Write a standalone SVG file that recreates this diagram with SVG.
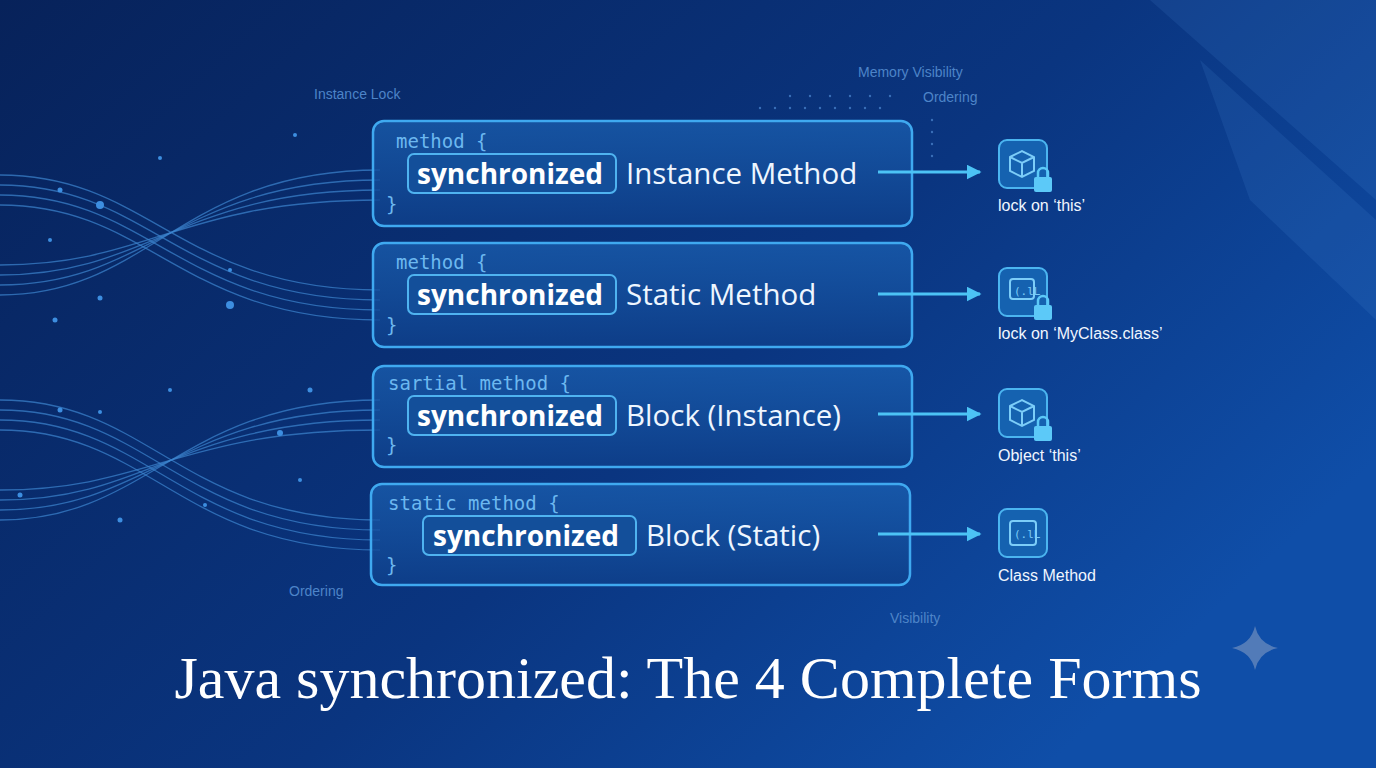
<svg xmlns="http://www.w3.org/2000/svg" width="1376" height="768" viewBox="0 0 1376 768">
<defs>
<linearGradient id="bg" x1="0" y1="0" x2="1" y2="0.6">
<stop offset="0" stop-color="#07225a"/><stop offset="0.6" stop-color="#0a3580"/><stop offset="1" stop-color="#0f4ea8"/>
</linearGradient>
<linearGradient id="box" x1="0" y1="0" x2="0" y2="1">
<stop offset="0" stop-color="#1a5fb0" stop-opacity="0.75"/><stop offset="1" stop-color="#0e3f8a" stop-opacity="0.85"/>
</linearGradient>
<marker id="ah" viewBox="0 0 10 10" refX="9" refY="5" markerWidth="5" markerHeight="5" orient="auto"><path d="M0,0 L10,5 L0,10 z" fill="#4cc3f5"/></marker>
</defs>
<style>
.box{fill:url(#box);stroke:#3fa9f0;stroke-width:2.5}
.pill{fill:#134f9a;stroke:#4fb3f0;stroke-width:2}
.kw{font-family:"DejaVu Sans Mono",monospace;font-size:19px;fill:#6cb8f0}
.sync{font-family:"Open Sans","Liberation Sans",sans-serif;font-weight:bold;font-size:28px;fill:#fff}
.lbl{font-family:"Open Sans","Liberation Sans",sans-serif;font-size:29.5px;fill:#eef6ff}
.cap{font-family:"Liberation Sans",sans-serif;font-size:16px;fill:#f0f6ff}
.dim{font-family:"Liberation Sans",sans-serif;font-size:14px;fill:#4d84c8}
.icon{fill:#1562b0;stroke:#4bb5f0;stroke-width:2}
.istroke{fill:none;stroke:#7ccdf8;stroke-width:2}
.lock{fill:#5cc9f8}
.wire{fill:none;stroke:#3d86d0;stroke-width:1.3;opacity:0.7}
.conn{stroke:#4cc3f5;stroke-width:3;fill:none}
</style>
<rect width="1376" height="768" fill="url(#bg)"/>
<g opacity="0.12" fill="#5a9ce8">
<polygon points="1150,0 1376,0 1376,200"/>
<polygon points="1200,60 1376,220 1376,320 1250,200"/>
</g>
<g id="wires">
<path class="wire" d="M0,175 C150,175 180,290 380,290"/><path class="wire" d="M0,185 C150,185 180,300 380,300"/><path class="wire" d="M0,195 C150,195 180,310 380,310"/><path class="wire" d="M0,205 C150,205 180,320 380,320"/>
<path class="wire" d="M0,295 C150,295 180,170 380,170"/><path class="wire" d="M0,285 C150,285 180,180 380,180"/><path class="wire" d="M0,275 C150,275 180,190 380,190"/><path class="wire" d="M0,265 C150,265 180,200 380,200"/>
<path class="wire" d="M0,400 C150,400 180,520 380,520"/><path class="wire" d="M0,410 C150,410 180,530 380,530"/><path class="wire" d="M0,420 C150,420 180,540 380,540"/><path class="wire" d="M0,430 C150,430 180,550 380,550"/>
<path class="wire" d="M0,520 C150,520 180,400 380,400"/><path class="wire" d="M0,510 C150,510 180,410 380,410"/><path class="wire" d="M0,500 C150,500 180,420 380,420"/><path class="wire" d="M0,490 C150,490 180,430 380,430"/>
<g fill="#3d8ee0"><circle cx="100" cy="205" r="4"/><circle cx="60" cy="190" r="2.5"/><circle cx="160" cy="158" r="2"/><circle cx="230" cy="305" r="4"/><circle cx="50" cy="240" r="2"/><circle cx="100" cy="298" r="2.5"/><circle cx="230" cy="270" r="2"/><circle cx="20" cy="495" r="2.5"/><circle cx="60" cy="410" r="2.5"/><circle cx="100" cy="412" r="2"/><circle cx="280" cy="433" r="3"/><circle cx="310" cy="390" r="2.5"/><circle cx="120" cy="520" r="2.5"/><circle cx="205" cy="505" r="2"/><circle cx="300" cy="480" r="2"/><circle cx="170" cy="390" r="2"/><circle cx="295" cy="135" r="2"/><circle cx="55" cy="320" r="2.5"/></g>
<g fill="#3a6fb8"><circle cx="760" cy="108" r="1.2"/><circle cx="775" cy="108" r="1.2"/><circle cx="790" cy="108" r="1.2"/><circle cx="805" cy="108" r="1.2"/><circle cx="820" cy="108" r="1.2"/><circle cx="835" cy="108" r="1.2"/><circle cx="850" cy="108" r="1.2"/><circle cx="865" cy="108" r="1.2"/><circle cx="880" cy="108" r="1.2"/><circle cx="790" cy="96" r="1.2"/><circle cx="810" cy="96" r="1.2"/><circle cx="830" cy="96" r="1.2"/><circle cx="850" cy="96" r="1.2"/><circle cx="870" cy="96" r="1.2"/><circle cx="890" cy="96" r="1.2"/><circle cx="932" cy="120" r="1.2"/><circle cx="932" cy="132" r="1.2"/><circle cx="932" cy="144" r="1.2"/><circle cx="932" cy="156" r="1.2"/></g>
</g>
<g id="labels-dim">
<text class="dim" x="314" y="99">Instance Lock</text>
<text class="dim" x="858" y="77">Memory Visibility</text>
<text class="dim" x="923" y="102">Ordering</text>
<text class="dim" x="289" y="596">Ordering</text>
<text class="dim" x="890" y="623">Visibility</text>
</g>
<g id="node1">
<rect class="box" x="373" y="121" width="539" height="105" rx="11"/>
<text class="kw" x="396" y="148">method {</text>
<rect class="pill" x="408" y="154" width="208" height="39" rx="6"/>
<text class="sync" x="417" y="184">synchronized</text>
<text class="lbl" x="626" y="184">Instance Method</text>
<text class="kw" x="386" y="211">}</text>
</g>
<g id="node2">
<rect class="box" x="373" y="243" width="539" height="104" rx="11"/>
<text class="kw" x="396" y="269">method {</text>
<rect class="pill" x="408" y="275" width="208" height="39" rx="6"/>
<text class="sync" x="417" y="305">synchronized</text>
<text class="lbl" x="626" y="305">Static Method</text>
<text class="kw" x="386" y="332">}</text>
</g>
<g id="node3">
<rect class="box" x="373" y="366" width="539" height="101" rx="11"/>
<text class="kw" x="388" y="390">sartial method {</text>
<rect class="pill" x="408" y="396" width="208" height="39" rx="6"/>
<text class="sync" x="417" y="426">synchronized</text>
<text class="lbl" x="626" y="426">Block (Instance)</text>
<text class="kw" x="386" y="452">}</text>
</g>
<g id="node4">
<rect class="box" x="371" y="484" width="539" height="101" rx="11"/>
<text class="kw" x="388" y="510">static method {</text>
<rect class="pill" x="423" y="516" width="213" height="39" rx="6"/>
<text class="sync" x="433" y="546">synchronized</text>
<text class="lbl" x="646" y="546">Block (Static)</text>
<text class="kw" x="386" y="572">}</text>
</g>
<g id="connectors">
<line class="conn" x1="878" y1="172" x2="980" y2="172" marker-end="url(#ah)"/>
<line class="conn" x1="878" y1="294" x2="980" y2="294" marker-end="url(#ah)"/>
<line class="conn" x1="878" y1="414" x2="980" y2="414" marker-end="url(#ah)"/>
<line class="conn" x1="878" y1="534" x2="980" y2="534" marker-end="url(#ah)"/>
</g>
<g id="icon1">
<rect class="icon" x="999" y="140" width="48" height="48" rx="8"/>
<path class="istroke" d="M1010,157 L1022,151 L1034,157 L1034,171 L1022,177 L1010,171 Z M1010,157 L1022,163 L1034,157 M1022,163 L1022,177"/>
<path d="M1038,177 v-4 a5,5 0 0 1 10,0 v4" fill="none" stroke="#5cc9f8" stroke-width="2.5"/><rect class="lock" x="1034" y="177" width="18" height="15" rx="2"/>
<text class="cap" x="998" y="211">lock on ‘this’</text>
</g>
<g id="icon2">
<rect class="icon" x="999" y="268" width="48" height="48" rx="8"/>
<rect class="istroke" x="1010" y="279" width="24" height="20" rx="3"/>
<text x="1014" y="295" font-family="DejaVu Sans Mono,monospace" font-size="11" fill="#7ccdf8">(.lL</text>
<path d="M1038,305 v-4 a5,5 0 0 1 10,0 v4" fill="none" stroke="#5cc9f8" stroke-width="2.5"/><rect class="lock" x="1034" y="305" width="18" height="15" rx="2"/>
<text class="cap" x="998" y="339">lock on ‘MyClass.class’</text>
</g>
<g id="icon3">
<rect class="icon" x="999" y="389" width="48" height="48" rx="8"/>
<path class="istroke" d="M1010,406 L1022,400 L1034,406 L1034,420 L1022,426 L1010,420 Z M1010,406 L1022,412 L1034,406 M1022,412 L1022,426"/>
<path d="M1038,426 v-4 a5,5 0 0 1 10,0 v4" fill="none" stroke="#5cc9f8" stroke-width="2.5"/><rect class="lock" x="1034" y="426" width="18" height="15" rx="2"/>
<text class="cap" x="998" y="461">Object ‘this’</text>
</g>
<g id="icon4">
<rect class="icon" x="999" y="509" width="48" height="48" rx="8"/>
<rect class="istroke" x="1010" y="521" width="26" height="24" rx="3"/>
<text x="1014" y="538" font-family="DejaVu Sans Mono,monospace" font-size="11" fill="#7ccdf8">(.lL</text>
<text class="cap" x="998" y="581">Class Method</text>
</g>
<path d="M1255,626 Q1259,644 1278,648 Q1259,652 1255,670 Q1251,652 1232,648 Q1251,644 1255,626 Z" fill="#6f8fbf" opacity="0.7"/>
<text x="688" y="698" text-anchor="middle" font-family="Liberation Serif,serif" font-size="60" fill="#ffffff">Java synchronized: The 4 Complete Forms</text>
</svg>
